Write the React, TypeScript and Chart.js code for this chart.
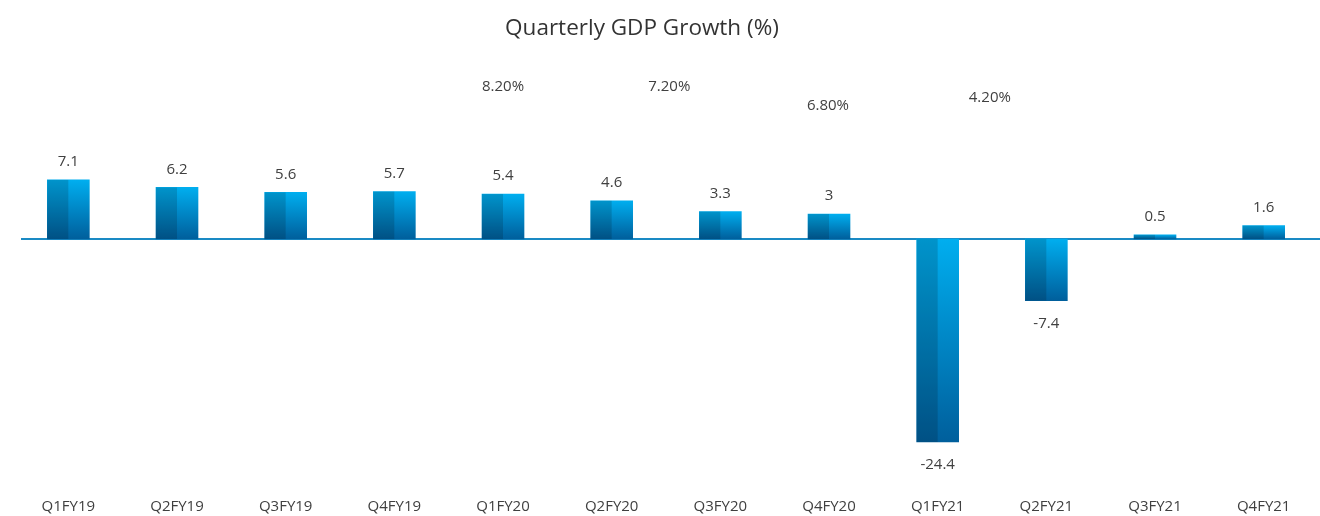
import React, { useEffect, useRef } from "react";
import { Chart, registerables } from "chart.js";

Chart.register(...registerables);

const categories = ["Q1FY19", "Q2FY19", "Q3FY19", "Q4FY19", "Q1FY20", "Q2FY20", "Q3FY20", "Q4FY20", "Q1FY21", "Q2FY21", "Q3FY21", "Q4FY21"];
const growth = [7.1, 6.2, 5.6, 5.7, 5.4, 4.6, 3.3, 3, -24.4, -7.4, 0.5, 1.6];
const valueLabels = ["7.1", "6.2", "5.6", "5.7", "5.4", "4.6", "3.3", "3", "-24.4", "-7.4", "0.5", "1.6"];

const annualLabels = ["8.20%", "7.20%", "6.80%", "4.20%"];
// annotation placement (category index, y-scale value)
const annualAtIndex = [4, 5.53, 6.99, 8.48];
const annualAtValue = [18.3, 18.3, 16.0, 16.95];

const TITLE = "Quarterly GDP Growth (%)";

const FONT = "'Open Sans', 'Noto Sans', sans-serif";
const TEXT = "#404040";

const zeroLinePlugin = {
  id: "zeroLine",
  beforeDatasetsDraw(chart: any) {
    const { ctx, chartArea, scales } = chart;
    const y = scales.y.getPixelForValue(0);
    ctx.save();
    ctx.strokeStyle = "#1a8ac4";
    ctx.lineWidth = 2.2;
    ctx.beginPath();
    ctx.moveTo(chartArea.left + 7, y);
    ctx.lineTo(chartArea.right + 2, y);
    ctx.stroke();
    ctx.restore();
  },
};

const splitShadePlugin = {
  id: "splitShade",
  afterDatasetsDraw(chart: any) {
    const { ctx } = chart;
    const meta = chart.getDatasetMeta(0);
    ctx.save();
    ctx.fillStyle = "rgba(0,0,0,0.15)";
    meta.data.forEach((bar: any) => {
      const { x, y, base, width } = bar.getProps(["x", "y", "base", "width"], true);
      const top = Math.min(y, base);
      const h = Math.abs(base - y);
      ctx.fillRect(x - width / 2, top, width / 2, h);
    });
    ctx.restore();
  },
};

const labelsPlugin = {
  id: "valueLabels",
  afterDatasetsDraw(chart: any) {
    const { ctx, scales, chartArea } = chart;
    const meta = chart.getDatasetMeta(0);
    ctx.save();
    ctx.font = `15px ${FONT}`;
    ctx.fillStyle = TEXT;
    ctx.textAlign = "center";
    ctx.textBaseline = "middle";
    meta.data.forEach((bar: any, i: number) => {
      const v = growth[i];
      const { x, y } = bar.getProps(["x", "y"], true);
      const ly = v >= 0 ? y - 18 : y + 23;
      ctx.fillText(valueLabels[i], x, ly);
    });
    annualLabels.forEach((t, i) => {
      const x = scales.x.getPixelForValue(annualAtIndex[i]);
      const y = scales.y.getPixelForValue(annualAtValue[i]);
      ctx.fillText(t, x, y);
    });
    // title
    ctx.font = `22.5px ${FONT}`;
    ctx.fillStyle = "#333333";
    const cx = (chartArea.left + chartArea.right) / 2 - 24;
    ctx.fillText(TITLE, cx, chartArea.top - 31);
    ctx.restore();
  },
};

export default function App() {
  const ref = useRef<HTMLCanvasElement>(null);
  useEffect(() => {
    if (!ref.current) return;
    const chart = new Chart(ref.current, {
      type: "bar",
      data: {
        labels: categories,
        datasets: [
          {
            data: growth,
            barThickness: 42,
            borderWidth: 0,
            backgroundColor: (c: any) => {
              const ch = c.chart;
              const { chartArea, scales } = ch;
              if (!chartArea || c.raw === undefined) return "#0090d0";
              const y0 = scales.y.getPixelForValue(0);
              const y1 = scales.y.getPixelForValue(c.raw);
              const top = Math.min(y0, y1);
              const bot = Math.max(y0, y1);
              const g = ch.ctx.createLinearGradient(0, top, 0, bot + 0.01);
              g.addColorStop(0, "#00aeef");
              g.addColorStop(1, "#005f9c");
              return g;
            },
          },
        ],
      },
      options: {
        animation: false,
        responsive: false,
        maintainAspectRatio: false,
        devicePixelRatio: 1,
        layout: { padding: { left: 14, right: 2, top: 60, bottom: 0 } },
        plugins: {
          legend: { display: false },
          tooltip: { enabled: false },
          title: { display: false },
        },
        scales: {
          x: {
            grid: { display: false, drawTicks: false },
            border: { display: false },
            ticks: { color: TEXT, font: { family: FONT, size: 15 }, padding: 28 },
            afterFit: (scale: any) => {
              scale.height = 46;
            },
          },
          y: {
            display: false,
            min: -27.76,
            max: 21.51,
          },
        },
      },
      plugins: [zeroLinePlugin, splitShadePlugin, labelsPlugin],
    });
    return () => chart.destroy();
  }, []);
  return (
    <div style={{ position: "fixed", left: 0, top: 0, width: 1320, height: 516, background: "#fff" }}>
      <canvas ref={ref} width={1320} height={516} style={{ display: "block", width: 1320, height: 516 }} />
    </div>
  );
}
